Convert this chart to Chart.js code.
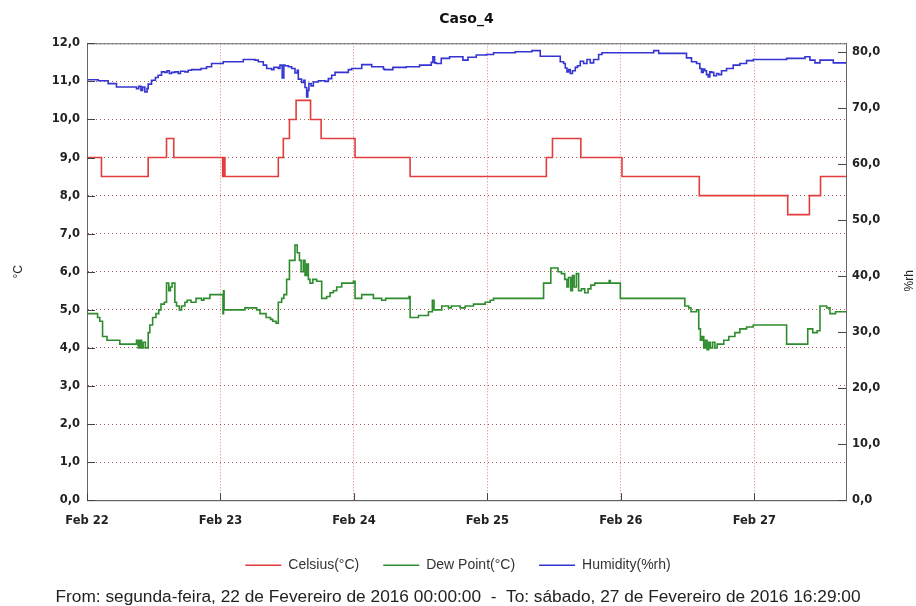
<!DOCTYPE html>
<html>
<head>
<meta charset="utf-8">
<script src="https://cdn.jsdelivr.net/npm/chart.js@4/dist/chart.umd.min.js"></script>
<style>
  html,body{margin:0;padding:0;background:#fff;}
  #wrap{width:916px;height:606px;}
</style>
</head>
<body>
<div id="wrap"><canvas id="chartCaso"></canvas></div>
<script>
// ================= DATA (hours since Feb 22 00:00) =================
const endHour = 136.48; // Feb 27 16:29
const dayLabels = ["Feb 22","Feb 23","Feb 24","Feb 25","Feb 26","Feb 27"];

const celsiusTime  = [0,2.6,11,14.3,15.6,24.4,24.5,24.6,24.7,24.8,34.4,35.3,36.4,37.6,40.2,42.1,48.2,58.1,82.6,83.7,88.8,96.2,110.1,126,129.9,131.9,136.48];
const celsiusValue = [9,8.5,9,9.5,9,8.5,9,8.5,9,8.5,9,9.5,10,10.5,10,9.5,9,8.5,9,9.5,9,8.5,8,7.5,8,8.5,8.5];

const dewTime  = [0,1.9,2.3,2.8,3.6,5.9,8.9,9.2,9.5,9.8,10.1,10.5,11.0,11.3,11.8,12.4,12.9,13.3,13.9,14.3,14.7,15.0,15.3,15.8,16.1,16.6,17.0,17.6,18.0,18.7,19.6,20.6,21.0,22.1,24.45,24.55,24.65,28.4,30.5,31.1,32.2,33.0,33.4,34.0,34.4,35.0,35.4,35.9,36.4,37.0,37.4,37.8,38.2,38.5,38.9,39.2,39.5,39.8,40.1,40.6,41.3,42.2,43.1,43.7,44.3,44.9,45.8,47.9,48.2,49.4,51.5,53.0,53.7,57.9,58.1,59.6,61.4,62.1,62.4,63.8,65.0,65.5,67.1,68.0,69.5,71.6,72.5,73.1,82.1,83.4,84.7,85.3,85.9,86.3,86.6,87.0,87.3,87.6,88.0,88.4,88.9,89.5,90.1,90.6,91.3,93.9,94.1,95.9,107.2,107.5,108.2,108.6,109.6,110.0,110.3,110.6,110.9,111.2,111.5,111.8,112.1,112.5,112.9,113.3,114.5,115.4,116.5,117.4,118.6,119.8,125.8,129.6,130.5,131.3,131.8,133.0,133.6,134.6,136.48];
const dewValue = [4.9,4.8,4.7,4.3,4.2,4.1,4.2,4.0,4.2,4.0,4.15,4.0,4.4,4.6,4.8,4.9,5.0,5.15,5.2,5.7,5.5,5.6,5.7,5.2,5.1,5.0,5.1,5.2,5.25,5.2,5.3,5.25,5.3,5.4,4.9,5.5,5.0,5.05,5.0,4.9,4.8,4.75,4.7,4.65,5.2,5.3,5.4,5.8,6.3,6.3,6.7,6.5,6.3,6.0,6.3,5.9,6.2,5.8,5.7,5.8,5.75,5.3,5.35,5.45,5.5,5.6,5.7,5.75,5.3,5.4,5.3,5.25,5.3,5.35,4.8,4.85,4.95,5.25,5.0,5.1,5.05,5.1,5.05,5.1,5.15,5.2,5.25,5.3,5.7,6.1,6.0,5.95,5.8,5.6,5.85,5.5,5.9,5.6,5.95,5.5,5.55,5.45,5.55,5.65,5.7,5.77,5.7,5.3,5.3,5.1,5.05,4.95,5.0,4.5,4.2,4.3,4.0,4.2,3.95,4.15,4.0,4.15,4.0,4.1,4.2,4.3,4.4,4.5,4.55,4.6,4.1,4.5,4.4,4.45,5.1,5.05,4.9,4.95,4.95];

const humTime  = [0,2.0,3.8,5.3,8.9,9.3,9.7,10.0,10.4,10.8,11.0,11.6,12.3,12.8,13.4,14.0,14.4,14.8,15.2,15.8,16.4,16.8,17.6,18.2,18.8,20.5,21.5,22.4,24.5,28.1,30.2,30.8,31.7,32.3,33.2,33.6,34.4,34.7,35.1,35.4,35.6,36.2,36.8,37.4,37.8,38.0,38.6,39.0,39.2,39.5,39.7,39.9,40.3,40.7,41.6,42.8,43.4,44.0,44.6,47.0,47.6,49.4,51.2,53.3,53.5,55.0,57.4,59.8,61.9,62.2,62.5,62.8,63.7,65.2,67.6,68.5,70.0,71.8,73.1,77.0,80.0,81.5,85.1,85.7,86.0,86.3,86.6,86.9,87.3,87.8,88.2,88.7,89.3,89.9,90.5,91.1,92.0,92.6,101.9,102.8,107.2,107.8,108.7,109.6,110.2,110.5,110.8,111.1,111.4,111.7,112.0,112.3,112.7,113.2,113.6,114.1,115.0,116.2,117.4,118.6,119.8,125.8,129.1,130.0,130.9,131.8,133.6,134.2,136.48];
const humValue = [75.1,74.9,74.4,73.8,73.5,73.9,73.2,73.8,72.9,73.5,74.3,75.0,75.5,75.9,76.5,76.4,76.7,76.2,76.4,76.5,76.2,76.6,76.5,76.8,76.9,77.1,77.4,78.0,78.3,78.7,78.6,78.3,77.7,77.1,76.9,77.3,77.1,77.7,75.4,77.7,77.6,77.4,77.1,76.3,76.8,75.2,74.6,75.0,73.7,72.0,73.2,74.4,74.0,74.7,74.9,74.8,75.3,75.9,76.4,76.9,77.1,77.8,77.4,77.0,76.9,77.3,77.4,77.7,78.2,79.2,78.1,78.0,78.9,79.2,78.6,79.1,79.5,79.6,79.9,80.1,80.3,79.3,78.3,78.0,77.2,76.5,76.9,76.2,76.7,77.3,77.6,78.4,78.0,78.7,78.1,78.7,79.6,79.9,80.3,79.8,79.8,79.0,78.3,78.0,77.1,76.4,77.0,76.7,76.0,75.6,76.5,76.4,75.8,76.2,76.0,76.7,77.1,77.7,78.0,78.5,78.7,78.9,79.2,78.6,78.1,78.6,78.6,78.1,78.1];

const footerText = "From: segunda-feira, 22 de Fevereiro de 2016 00:00:00  -  To: sábado, 27 de Fevereiro de 2016 16:29:00";

// ================= HELPERS =================
const toXY = (t,v) => t.map((x,i)=>({x, y:v[i]}));
const comma = v => Number(v).toFixed(1).replace(".", ",");
const FONT = "'DejaVu Sans', Verdana, sans-serif";
const FONT2 = "'Liberation Sans', Arial, sans-serif";

// frame, inward ticks and right axis title
const framePlugin = {
  id:"frame",
  afterDraw(chart){
    const {ctx, chartArea:a, scales} = chart;
    ctx.save();
    ctx.strokeStyle = "#666";
    ctx.lineWidth = 1;
    ctx.strokeRect(a.left+0.5, a.top+0.5, a.right-a.left, a.bottom-a.top);
    ctx.strokeStyle = "#444";
    ctx.beginPath();
    scales.y.ticks.forEach(t=>{
      const p = Math.round(scales.y.getPixelForValue(t.value))+0.5;
      ctx.moveTo(a.left, p); ctx.lineTo(a.left+8, p);
    });
    scales.y1.ticks.forEach(t=>{
      const p = Math.round(scales.y1.getPixelForValue(t.value))+0.5;
      ctx.moveTo(a.right-8, p); ctx.lineTo(a.right, p);
    });
    scales.x.ticks.forEach(t=>{
      const p = Math.round(scales.x.getPixelForValue(t.value))+0.5;
      ctx.moveTo(p, a.bottom); ctx.lineTo(p, a.bottom-7);
    });
    ctx.stroke();
    // %rh title
    ctx.fillStyle = "#222";
    ctx.font = "12px " + FONT2;
    ctx.textAlign = "center";
    ctx.textBaseline = "middle";
    ctx.translate(910, (a.top+a.bottom)/2 + 9);
    ctx.rotate(-Math.PI/2);
    ctx.fillText("%rh", 0, 0);
    ctx.restore();
  }
};

const ctx = document.getElementById("chartCaso").getContext("2d");

new Chart(ctx,{
  type:"line",
  data:{
    datasets:[
      { label:"Celsius(°C)", data:toXY(celsiusTime,celsiusValue), yAxisID:"y",
        borderColor:"#e23c3c", backgroundColor:"#e23c3c", borderWidth:1.6, stepped:true, pointRadius:0, fill:false },
      { label:"Dew Point(°C)", data:toXY(dewTime,dewValue), yAxisID:"y",
        borderColor:"#2e8c2e", backgroundColor:"#2e8c2e", borderWidth:1.6, stepped:true, pointRadius:0, fill:false },
      { label:"Humidity(%rh)", data:toXY(humTime,humValue), yAxisID:"y1",
        borderColor:"#3434d2", backgroundColor:"#3434d2", borderWidth:1.6, stepped:true, pointRadius:0, fill:false }
    ]
  },
  options:{
    responsive:true,
    maintainAspectRatio:false,
    animation:false,
    layout:{ padding:0 },
    plugins:{
      title:{
        display:true, text:"Caso_4", color:"#111", fullSize:false,
        font:{ family:FONT, size:14, weight:"bold" },
        padding:{ top:11, bottom:15.5 }
      },
      legend:{
        position:"bottom",
        labels:{
          usePointStyle:true, pointStyle:"line", pointStyleWidth:36,
          color:"#333", font:{ family:FONT2, size:14 }, padding:24
        }
      },
      subtitle:{
        display:true, position:"bottom", text:footerText, color:"#222",
        font:{ family:FONT2, size:17.3, lineHeight:1 }, padding:{ top:6.5, bottom:0 }
      },
      tooltip:{ enabled:false }
    },
    scales:{
      x:{
        type:"linear", min:0, max:endHour,
        ticks:{
          stepSize:24, includeBounds:false, autoSkip:false, maxRotation:0, padding:14,
          color:"#222", font:{ family:FONT, size:11.5, weight:"bold" },
          callback:v => dayLabels[Math.round(v/24)] || ""
        },
        grid:{ color:"rgba(205,90,90,0.75)", drawTicks:false },
        border:{ display:true, color:"#555", dash:[1,2] },
        afterFit:s=>{ s.height = 34; }
      },
      y:{
        position:"left", min:0, max:12,
        ticks:{ stepSize:1, padding:7, color:"#222", font:{ family:FONT, size:11.5, weight:"bold" }, callback:comma },
        grid:{ color:"rgba(165,60,60,0.85)", drawTicks:false },
        border:{ display:true, color:"#555", dash:[1,3] },
        title:{ display:true, text:"°C", color:"#222", font:{ family:FONT2, size:12 }, padding:{ top:11, bottom:0 } },
        afterFit:s=>{ s.width = 87; }
      },
      y1:{
        position:"right", min:0, max:81.6,
        ticks:{ stepSize:10, includeBounds:false, padding:6, color:"#222", font:{ family:FONT, size:11.5, weight:"bold" }, callback:comma },
        grid:{ drawOnChartArea:false, drawTicks:false },
        border:{ display:true, color:"#555" },
        afterFit:s=>{ s.width = 70; }
      }
    }
  },
  plugins:[framePlugin]
});
</script>
</body>
</html>
